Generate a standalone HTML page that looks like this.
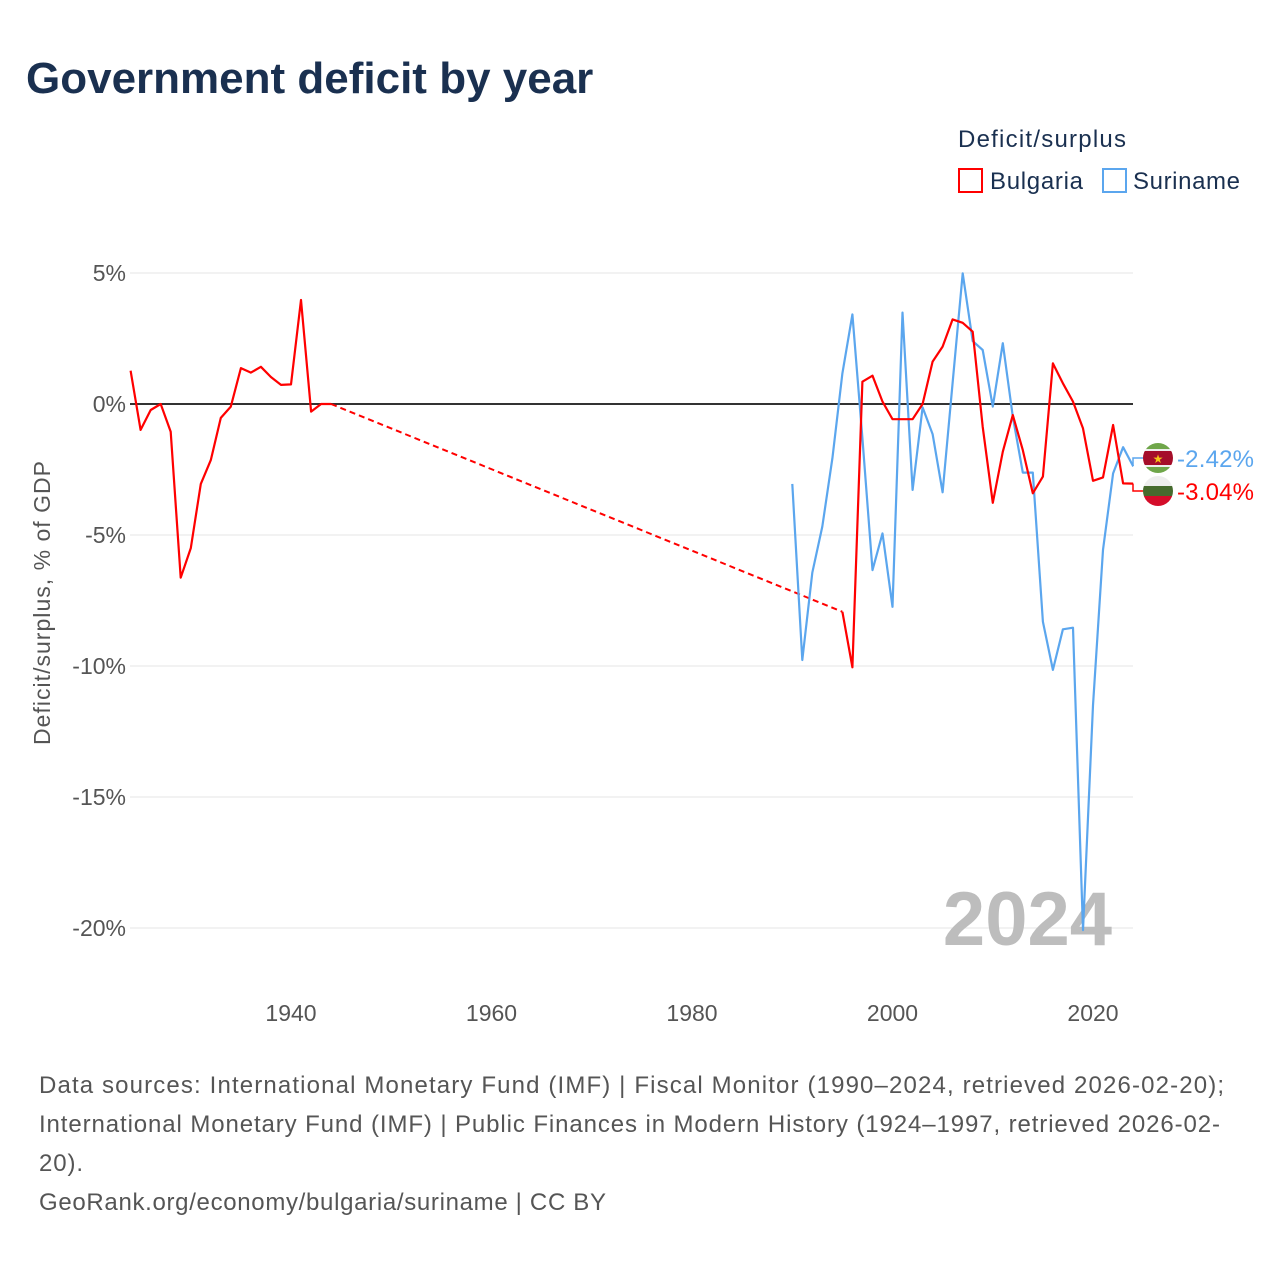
<!DOCTYPE html>
<html><head><meta charset="utf-8"><style>
body{margin:0;background:#fff;font-family:"Liberation Sans",sans-serif;}
svg{display:block}
</style></head><body>
<svg id="chart" width="1280" height="1280" viewBox="0 0 1280 1280">
<text x="26" y="93" font-size="44" font-weight="bold" fill="#1a3050">Government deficit by year</text>
<text x="958" y="147" font-size="24" fill="#1a3050" textLength="168">Deficit/surplus</text>
<g><rect x="959" y="169" width="23" height="23" fill="none" stroke="#ff0000" stroke-width="2"/><text x="990" y="189" font-size="24" fill="#1a3050" textLength="93">Bulgaria</text></g>
<g><rect x="1103" y="169" width="23" height="23" fill="none" stroke="#5ba6ee" stroke-width="2"/><text x="1133" y="189" font-size="24" fill="#1a3050" textLength="107">Suriname</text></g>
<g id="grid"></g>
<text x="1112" y="945" font-size="76" font-weight="bold" fill="#bdbdbd" text-anchor="end">2024</text>
<g id="series"></g>
<text transform="translate(50,603) rotate(-90)" font-size="23" fill="#555" text-anchor="middle" textLength="284">Deficit/surplus, % of GDP</text>
<g font-size="24" fill="#555">
<text x="39" y="1093" textLength="1185">Data sources: International Monetary Fund (IMF) | Fiscal Monitor (1990–2024, retrieved 2026-02-20);</text>
<text x="39" y="1132" textLength="1181">International Monetary Fund (IMF) | Public Finances in Modern History (1924–1997, retrieved 2026-02-</text>
<text x="39" y="1171" textLength="44">20).</text>
<text x="39" y="1210" textLength="567">GeoRank.org/economy/bulgaria/suriname | CC BY</text>
</g>
</svg>
<script>
const yTicks=[5,0,-5,-10,-15,-20];
const xTicks=[1940,1960,1980,2000,2020];
const bgYears1=[1924,1925,1926,1927,1928,1929,1930,1931,1932,1933,1934,1935,1936,1937,1938,1939,1940,1941,1942,1943,1944];
const bgVals1=[1.27,-0.99,-0.23,0,-1.06,-6.63,-5.5,-3.05,-2.14,-0.53,-0.1,1.37,1.2,1.42,1.03,0.73,0.75,3.97,-0.29,0,0];
const bgYears2=[1995,1996,1997,1998,1999,2000,2001,2002,2003,2004,2005,2006,2007,2008,2009,2010,2011,2012,2013,2014,2015,2016,2017,2018,2019,2020,2021,2022,2023,2024];
const bgVals2=[-7.93,-10.05,0.85,1.08,0.09,-0.58,-0.58,-0.58,0,1.62,2.19,3.23,3.1,2.76,-0.87,-3.77,-1.82,-0.42,-1.76,-3.41,-2.77,1.55,0.79,0.09,-0.93,-2.93,-2.8,-0.8,-3.03,-3.04];
const srYears=[1990,1991,1992,1993,1994,1995,1996,1997,1998,1999,2000,2001,2002,2003,2004,2005,2006,2007,2008,2009,2010,2011,2012,2013,2014,2015,2016,2017,2018,2019,2020,2021,2022,2023,2024];
const srVals=[-3.05,-9.77,-6.44,-4.68,-2.07,1.17,3.42,-1.3,-6.34,-4.94,-7.74,3.49,-3.28,-0.13,-1.15,-3.37,0.8,4.99,2.4,2.06,-0.1,2.32,-0.48,-2.62,-2.62,-8.31,-10.15,-8.6,-8.54,-20.08,-11.5,-5.57,-2.65,-1.65,-2.37];
const bgLast=-3.04, srLast=-2.42;
const NS='http://www.w3.org/2000/svg';
const X=y=>291+(y-1940)*10.025;
const Y=v=>404-v*26.2;
function mk(t,a,p){const e=document.createElementNS(NS,t);for(const k in a)e.setAttribute(k,a[k]);p.appendChild(e);return e;}
const grid=document.getElementById('grid'),ser=document.getElementById('series');
yTicks.forEach(v=>{
 const l=mk('line',{x1:130,x2:1133,y1:Y(v),y2:Y(v),stroke:v===0?'#333':'#e6e6e6','stroke-width':v===0?2:1},grid);
 
 
 const t=mk('text',{x:126,y:Y(v)+8,'font-size':23,fill:'#555','text-anchor':'end'},grid);
 t.textContent=v+'%';
 
 
});
xTicks.forEach(y=>{
 const t=mk('text',{x:X(y),y:1021,'font-size':23,fill:'#555','text-anchor':'middle'},grid);
 t.textContent=y;
 
 
});
function path(xs,vs){return xs.map((y,i)=>(i?'L':'M')+X(y).toFixed(1)+','+Y(vs[i]).toFixed(1)).join('');}
let p=mk('path',{d:path(bgYears1,bgVals1),fill:'none',stroke:'#ff0000','stroke-width':2.2,'stroke-linejoin':'round'},ser);


p=mk('path',{d:'M'+X(bgYears1[bgYears1.length-1])+','+Y(bgVals1[bgVals1.length-1])+'L'+X(bgYears2[0])+','+Y(bgVals2[0]),fill:'none',stroke:'#ff0000','stroke-width':2,'stroke-dasharray':'6,4'},ser);


p=mk('path',{d:path(srYears,srVals),fill:'none',stroke:'#5ba6ee','stroke-width':2.2,'stroke-linejoin':'round'},ser);


p=mk('path',{d:path(bgYears2,bgVals2),fill:'none',stroke:'#ff0000','stroke-width':2.2,'stroke-linejoin':'round'},ser);


function endLabel(last,val,yE,color,name,flag){
 const yL=Y(last);
 const l=mk('path',{d:'M'+X(2024)+','+yL+'H1133V'+yE+'H1143',fill:'none',stroke:color,'stroke-width':1.5},ser);
 
 
 const g=mk('g',{},ser);
 
 
 const cid='c'+name;
 const cp=mk('clipPath',{id:cid},g);mk('circle',{cx:1158,cy:yE,r:15},cp);
 const gg=mk('g',{'clip-path':'url(#'+cid+')'},g);
 flag.forEach(s=>mk('rect',{x:1143,y:yE-15+s[0],width:30,height:s[1],fill:s[2]},gg));
 if(name==='suriname')mk('text',{x:1158,y:yE+5,'font-size':12,fill:'#f5c518','text-anchor':'middle'},gg).textContent='★';
 const t=mk('text',{x:1177,y:yE+9,'font-size':24,fill:color,textLength:77},ser);
 t.textContent=val.toFixed(2)+'%';
 
 
}
endLabel(srVals[srVals.length-1],srLast,458,'#5ba6ee','suriname',[[0,6,'#6fa64a'],[6,2,'#eee'],[8,14,'#a50e2a'],[22,2,'#eee'],[24,6,'#6fa64a']]);
endLabel(bgVals2[bgVals2.length-1],bgLast,491,'#ff0000','bulgaria',[[0,10,'#eeeeee'],[10,10,'#466b2e'],[20,10,'#d40d2a']]);
</script>
</body></html>
